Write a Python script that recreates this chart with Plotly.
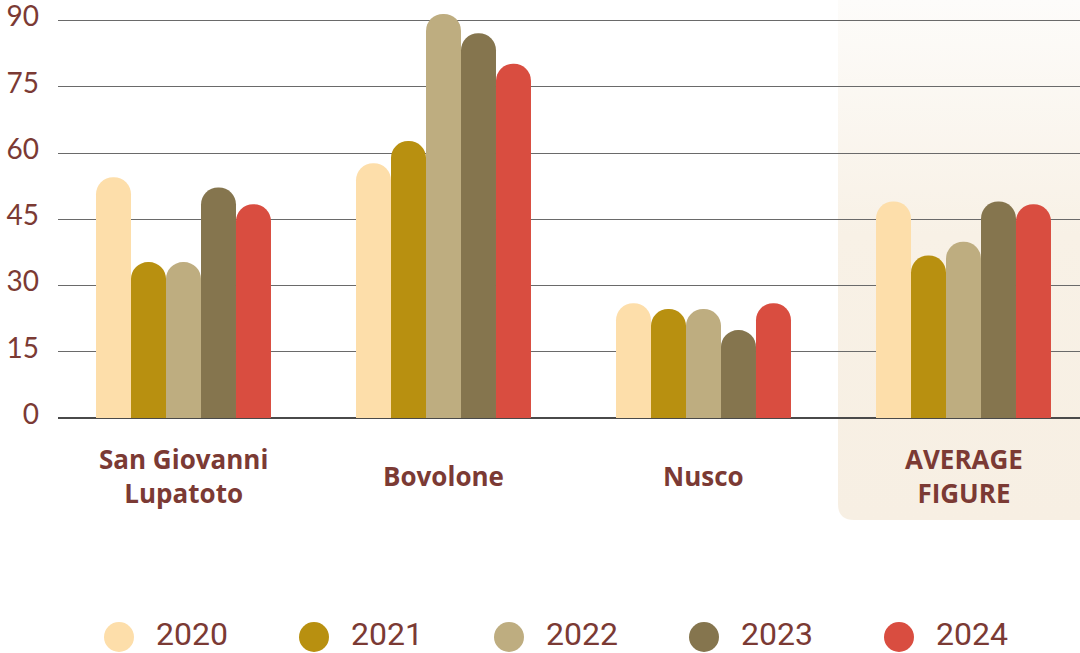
import base64
import plotly.graph_objects as go

# ---- data -------------------------------------------------------------
categories = ["San Giovanni<br>Lupatoto", "Bovolone", "Nusco", "AVERAGE<br>FIGURE"]
years = ["2020", "2021", "2022", "2023", "2024"]
values_2020 = [54.5, 57.7, 26.0, 49.0]
values_2021 = [35.3, 62.7, 24.7, 36.8]
values_2022 = [35.3, 91.5, 24.7, 39.9]
values_2023 = [52.2, 87.1, 19.9, 49.0]
values_2024 = [48.4, 80.2, 26.0, 48.4]
y_ticks = [0, 15, 30, 45, 60, 75, 90]

series = [values_2020, values_2021, values_2022, values_2023, values_2024]
colors = ["#FDDEAA", "#B89010", "#BEAD80", "#85754E", "#D94D40"]
TEXT = "#7B3A34"

W, H = 1080, 653
ML, MT = 58, 4
plot_w = W - ML
plot_h = H - MT


def py(px):
    """Convert a pixel row (from the top of the figure) to paper y."""
    return (H - px) / plot_h


# main value axis: 0 sits at 418 px, 90 at 20.5 px
y0_px, y90_px = 418, 20.5
ppu = (y0_px - y90_px) / 90
y_top = (y0_px - MT) / ppu
main_dom = [py(y0_px), 1]

fig = go.Figure()

for yr, vals, col in zip(years, series, colors):
    fig.add_trace(go.Bar(
        x=categories, y=vals, name=yr,
        marker=dict(color=col, line=dict(width=0), cornerradius="50%"),
        showlegend=False, cliponaxis=False, hoverinfo="skip",
    ))

# custom legend: big circles with year labels on a helper axis pair
idx = list(range(len(years)))
fig.add_trace(go.Scatter(
    x=idx, y=[0] * len(years), mode="markers",
    marker=dict(size=30, color=colors, line=dict(width=0)),
    xaxis="x2", yaxis="y2", showlegend=False, hoverinfo="skip",
))
fig.add_trace(go.Scatter(
    x=[i + 0.374 for i in idx], y=[0] * len(years), mode="text",
    text=years, textposition="middle center",
    textfont=dict(family="Roboto", size=32, color=TEXT),
    xaxis="x2", yaxis="y2", showlegend=False, hoverinfo="skip",
))

# shaded panel behind the average group (gradient, rounded lower-left corner)
svg = (
    '<svg xmlns="http://www.w3.org/2000/svg" width="242" height="520" viewBox="0 0 242 520">'
    '<defs><linearGradient id="g" x1="0" y1="0" x2="0" y2="1">'
    '<stop offset="0" stop-color="#FDFCFA"/>'
    '<stop offset="0.45" stop-color="#F8F1E6"/>'
    '<stop offset="1" stop-color="#F7EFE3"/>'
    '</linearGradient></defs>'
    '<path d="M0 0 H262 V520 H16 Q0 520 0 504 Z" fill="url(#g)"/>'
    '</svg>'
)
svg_uri = "data:image/svg+xml;base64," + base64.b64encode(svg.encode()).decode()
fig.add_layout_image(
    source=svg_uri, xref="paper", yref="paper",
    x=(838 - ML) / plot_w, y=py(0), sizex=(W - 838) / plot_w, sizey=520 / plot_h,
    xanchor="left", yanchor="top", sizing="stretch", layer="below",
)

# category labels, vertically centred under each group
for c in categories:
    fig.add_annotation(
        x=c, xref="x", y=py(476), yref="paper",
        text=f"<b>{c}</b>", showarrow=False, yanchor="middle",
        font=dict(family="Open Sans", size=26, color=TEXT),
    )

# legend helper axis ranges: circle centres at 119 px + 195 px per item
leg_x0 = -(119 - ML) / 195
leg_x1 = leg_x0 + plot_w / 195
leg_dom = [0, 0.3]
leg_dom_h = leg_dom[1] * plot_h
leg_r0 = -(H - 637) / leg_dom_h

fig.update_layout(
    template="none",
    width=W, height=H, autosize=False,
    margin=dict(l=ML, r=0, t=MT, b=0, pad=0, autoexpand=False),
    paper_bgcolor="white", plot_bgcolor="rgba(0,0,0,0)",
    barmode="group", bargap=0.327, bargroupgap=0,
    xaxis=dict(
        type="category", domain=[0, 1], anchor="y", automargin=False,
        range=[(ML - 183.5) / 260, (W - 183.5) / 260],
        showticklabels=False, showgrid=False, zeroline=False, showline=False,
        ticks="", fixedrange=True,
    ),
    yaxis=dict(
        domain=main_dom, anchor="x", range=[0, y_top], automargin=False,
        tickvals=y_ticks, ticktext=[str(t) for t in y_ticks],
        tickfont=dict(family="Lato", size=28, color=TEXT),
        ticks="", ticklabelstandoff=18, ticklabelshift=-4,
        ticklabeloverflow="allow",
        showgrid=True, gridcolor="#6A6A6A", gridwidth=1.3,
        zeroline=True, zerolinecolor="#4A4A4A", zerolinewidth=1.6,
        showline=False, fixedrange=True,
    ),
    xaxis2=dict(domain=[0, 1], anchor="y2", range=[leg_x0, leg_x1], visible=False),
    yaxis2=dict(domain=leg_dom, anchor="x2", range=[leg_r0, leg_r0 + 1], visible=False),
    showlegend=False,
)

fig.write_html("out.html", config={"displayModeBar": False})
